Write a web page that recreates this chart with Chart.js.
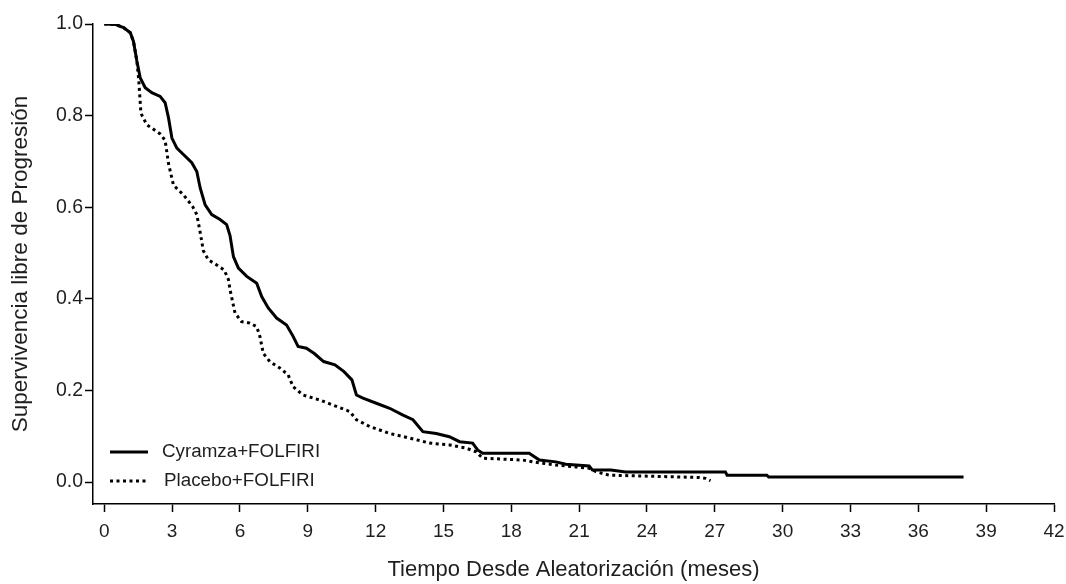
<!DOCTYPE html>
<html>
<head>
<meta charset="utf-8">
<script src="https://cdn.jsdelivr.net/npm/chart.js@4.4.1/dist/chart.umd.min.js"></script>
<style>
  html, body { margin: 0; padding: 0; background: #fff; }
  #wrap { width: 1066px; height: 584px; position: relative; }
</style>
</head>
<body>
<div id="wrap"><canvas id="c"></canvas></div>
<script>
// ---- Data ----
const seriesNames = ["Cyramza+FOLFIRI", "Placebo+FOLFIRI"];

const cyramzaTime = [0, 0.49, 0.85, 1.15, 1.29, 1.44, 1.59, 1.81, 2.1, 2.47, 2.69, 2.84, 2.99, 3.21, 3.5, 3.87, 4.09, 4.24, 4.46, 4.75, 5.12, 5.41, 5.56, 5.71, 5.93, 6.3, 6.74, 6.96, 7.25, 7.62, 8.06, 8.35, 8.57, 8.94, 9.3, 9.7, 10.2, 10.6, 10.95, 11.15, 11.44, 12.03, 12.62, 13.21, 13.65, 14.09, 14.68, 15.26, 15.71, 16.29, 16.51, 16.73, 18.79, 19.24, 19.97, 20.41, 21.44, 21.59, 22.4, 23.06, 27.47, 27.54, 29.3, 29.38, 38.0];
const cyramzaSurv = [1.0, 0.999, 0.992, 0.981, 0.962, 0.919, 0.882, 0.861, 0.850, 0.842, 0.828, 0.795, 0.751, 0.729, 0.715, 0.697, 0.678, 0.642, 0.605, 0.584, 0.573, 0.562, 0.538, 0.492, 0.467, 0.449, 0.434, 0.405, 0.380, 0.358, 0.343, 0.318, 0.296, 0.292, 0.280, 0.263, 0.256, 0.241, 0.223, 0.190, 0.183, 0.172, 0.161, 0.146, 0.136, 0.110, 0.106, 0.099, 0.088, 0.085, 0.070, 0.063, 0.063, 0.048, 0.044, 0.039, 0.035, 0.026, 0.026, 0.022, 0.022, 0.015, 0.015, 0.011, 0.011];

const placeboTime = [0, 0.49, 0.85, 1.15, 1.29, 1.44, 1.52, 1.62, 1.88, 2.47, 2.69, 2.84, 3.06, 3.5, 3.9, 4.09, 4.24, 4.38, 4.6, 4.97, 5.3, 5.49, 5.56, 5.78, 6.07, 6.44, 6.74, 6.88, 7.03, 7.32, 7.76, 8.13, 8.35, 8.79, 9.53, 10.27, 10.85, 11.15, 11.74, 12.62, 13.5, 14.38, 15.26, 16.0, 16.44, 16.73, 18.5, 18.94, 19.38, 19.97, 20.85, 21.44, 21.74, 22.32, 26.29, 26.59, 26.81];
const placeboSurv = [1.0, 0.999, 0.992, 0.981, 0.962, 0.919, 0.880, 0.805, 0.780, 0.760, 0.746, 0.695, 0.648, 0.627, 0.602, 0.584, 0.545, 0.505, 0.485, 0.474, 0.463, 0.442, 0.420, 0.369, 0.350, 0.347, 0.339, 0.318, 0.281, 0.263, 0.249, 0.234, 0.208, 0.190, 0.179, 0.165, 0.154, 0.136, 0.121, 0.106, 0.096, 0.085, 0.081, 0.074, 0.066, 0.052, 0.048, 0.044, 0.041, 0.037, 0.033, 0.030, 0.0225, 0.015, 0.010, 0.008, 0.003];

const xTicks = [0, 3, 6, 9, 12, 15, 18, 21, 24, 27, 30, 33, 36, 39, 42];
const yTicks = [0.0, 0.2, 0.4, 0.6, 0.8, 1.0];

const xTitle = "Tiempo Desde Aleatorización (meses)";
const yTitle = "Supervivencia libre de Progresión";

// ---- Build chart ----
const toPoints = (xs, ys) => xs.map((x, i) => ({ x: x, y: ys[i] }));
const FONT = "'Liberation Sans', Arial, sans-serif";
const TXT = "#1e1e1e";

const legendPlugin = {
  id: "insideLegend",
  afterDatasetsDraw(chart) {
    const ctx = chart.ctx;
    const area = chart.chartArea;
    const rows = [
      { ds: chart.data.datasets[0], y: area.bottom - 52, textX: 162 },
      { ds: chart.data.datasets[1], y: area.bottom - 23, textX: 164 }
    ];
    ctx.save();
    rows.forEach(r => {
      ctx.beginPath();
      ctx.lineWidth = r.ds.borderWidth;
      ctx.strokeStyle = r.ds.borderColor;
      ctx.setLineDash(r.ds.borderDash || []);
      ctx.lineCap = "butt";
      ctx.moveTo(area.left + 17, r.y);
      ctx.lineTo(area.left + 55, r.y);
      ctx.stroke();
      ctx.setLineDash([]);
      ctx.fillStyle = TXT;
      ctx.font = "18.8px " + FONT;
      ctx.textBaseline = "middle";
      ctx.textAlign = "left";
      ctx.fillText(r.ds.label, r.textX, r.y);
    });
    ctx.restore();
  }
};

new Chart(document.getElementById("c"), {
  type: "line",
  data: {
    datasets: [
      {
        label: seriesNames[0],
        data: toPoints(cyramzaTime, cyramzaSurv),
        borderColor: "#000",
        borderWidth: 3,
        pointRadius: 0,
        tension: 0,
        fill: false
      },
      {
        label: seriesNames[1],
        data: toPoints(placeboTime, placeboSurv),
        borderColor: "#000",
        borderWidth: 3,
        borderDash: [3, 3.5],
        pointRadius: 0,
        tension: 0,
        fill: false
      }
    ]
  },
  options: {
    responsive: true,
    maintainAspectRatio: false,
    animation: false,
    layout: { padding: { top: 24, right: 12, left: 0, bottom: 0 } },
    plugins: {
      legend: { display: false },
      tooltip: { enabled: false }
    },
    scales: {
      x: {
        type: "linear",
        min: -0.5,
        max: 42,
        afterBuildTicks: s => { s.ticks = xTicks.map(v => ({ value: v })); },
        afterFit: s => { s.height = 80; s.paddingRight = 0; s.paddingLeft = 0; },
        ticks: {
          color: TXT,
          font: { family: FONT, size: 19 },
          padding: 8,
          maxRotation: 0,
          autoSkip: false,
          callback: v => String(v)
        },
        grid: {
          drawOnChartArea: false,
          drawTicks: true,
          tickLength: 8,
          tickWidth: 1.5,
          tickColor: "#000"
        },
        border: { display: true, color: "#000", width: 1.5 },
        title: {
          display: true,
          text: xTitle,
          color: TXT,
          font: { family: FONT, size: 22 },
          padding: { top: 0, bottom: 1 }
        }
      },
      y: {
        type: "linear",
        min: -0.048,
        max: 1.0,
        afterBuildTicks: s => { s.ticks = yTicks.map(v => ({ value: v })); },
        afterFit: s => { s.width = 93; },
        ticks: {
          color: TXT,
          font: { family: FONT, size: 19.5 },
          padding: 2,
          autoSkip: false,
          callback: v => Number(v).toFixed(1)
        },
        grid: {
          drawOnChartArea: false,
          drawTicks: true,
          tickLength: 8,
          tickWidth: 1.5,
          tickColor: "#000"
        },
        border: { display: true, color: "#000", width: 1.5 },
        title: {
          display: true,
          text: yTitle,
          color: TXT,
          font: { family: FONT, size: 22.5 },
          padding: { top: 7, bottom: 0 }
        }
      }
    }
  },
  plugins: [legendPlugin]
});
</script>
</body>
</html>
